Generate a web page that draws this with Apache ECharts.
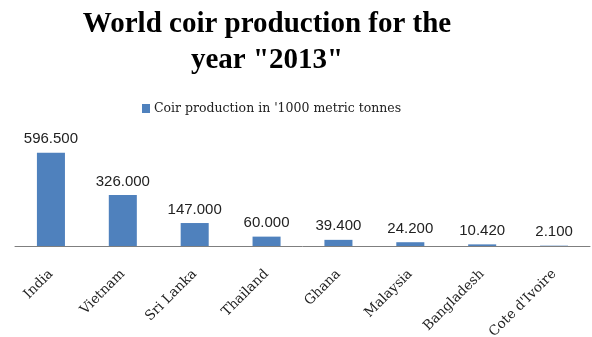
<!DOCTYPE html>
<html>
<head>
<meta charset="utf-8">
<title>World coir production</title>
<script src="https://cdn.jsdelivr.net/npm/echarts@6/dist/echarts.min.js"></script>
<style>
  html, body { margin: 0; padding: 0; background: #fff; }
  #chart { width: 592px; height: 337px; }
</style>
</head>
<body>
<div id="chart"></div>
<script>
  var countries = ['India', 'Vietnam', 'Sri Lanka', 'Thailand', 'Ghana', 'Malaysia', 'Bangladesh', "Cote d'Ivoire"]
  var production = [596.5, 326.0, 147.0, 60.0, 39.4, 24.2, 10.42, 2.1]
  var seriesName = "Coir production in '1000 metric tonnes"

  var chart = echarts.init(document.getElementById('chart'))

  chart.setOption({
    animation: false,
    color: ['#4F81BD'],
    title: {
      text: 'World coir production for the\nyear "2013"',
      left: 262,
      textAlign: 'center',
      top: 2,
      textStyle: {
        fontFamily: 'Liberation Serif',
        fontWeight: 'bold',
        fontSize: 29,
        lineHeight: 36,
        color: '#000'
      }
    },
    legend: {
      data: [seriesName],
      left: 137,
      top: 97,
      icon: 'rect',
      itemWidth: 8,
      itemHeight: 9,
      itemGap: 4,
      textStyle: {
        fontFamily: 'DejaVu Serif',
        fontSize: 12.5,
        color: '#222',
        padding: [0, 0, 0, -1]
      }
    },
    grid: {
      left: 15,
      right: 2,
      top: 121,
      bottom: 91,
      outerBoundsMode: 'none'
    },
    xAxis: {
      type: 'category',
      data: countries,
      axisLine: {
        lineStyle: { color: '#7f7f7f', width: 1 }
      },
      axisTick: { show: false },
      axisLabel: {
        rotate: 45,
        margin: 26,
        interval: 0,
        fontFamily: 'DejaVu Serif',
        fontSize: 13.5,
        color: '#222'
      }
    },
    yAxis: {
      type: 'value',
      min: 0,
      max: 800,
      show: false
    },
    series: [
      {
        name: seriesName,
        type: 'bar',
        barWidth: '39%',
        data: production,
        label: {
          show: true,
          position: 'top',
          distance: 6,
          fontFamily: 'Liberation Sans',
          fontSize: 15,
          color: '#222',
          formatter: function(p) {
            return p.value.toFixed(3)
          }
        }
      }
    ]
  })
</script>
</body>
</html>
